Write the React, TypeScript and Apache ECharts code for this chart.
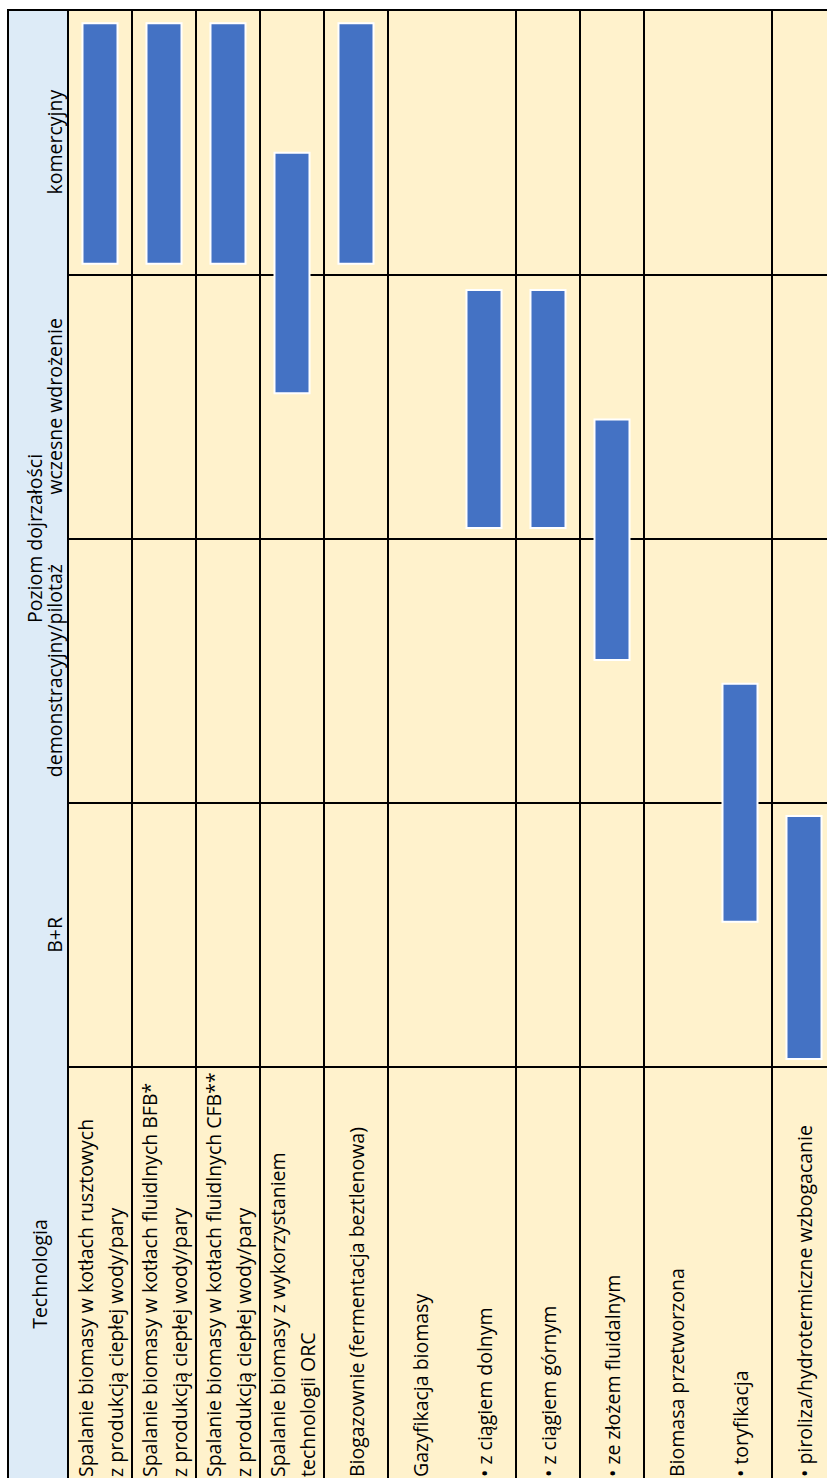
import React, { useEffect, useRef } from "react";
import * as echarts from "echarts";

// Rows of the (rotated) table: technologies
const rows = [
  "Spalanie biomasy w kotłach rusztowych\nz produkcją ciepłej wody/pary",
  "Spalanie biomasy w kotłach fluidlnych BFB*\nz produkcją ciepłej wody/pary",
  "Spalanie biomasy w kotłach fluidlnych CFB**\nz produkcją ciepłej wody/pary",
  "Spalanie biomasy z wykorzystaniem\ntechnologii ORC",
  "Biogazownie (fermentacja beztlenowa)",
  "Gazyfikacja biomasy",
  "• z ciągiem dolnym",
  "• z ciągiem górnym",
  "• ze złożem fluidalnym",
  "Biomasa przetworzona",
  "• toryfikacja",
  "• piroliza/hydrotermiczne wzbogacanie",
];
// rows that share one table cell with the row before them (no separating line)
const mergedWithPrevious = [false, false, false, false, false, false, true, false, false, false, true, false];

// Maturity levels, from lowest to highest
const levels = ["B+R", "demonstracyjny/pilotaż", "wczesne wdrożenie", "komercyjny"];
const levelAxisName = "Poziom dojrzałości";
const technologyHeader = "Technologia";

// Bars: row index, start and end of maturity range (in level units, 0 = start of B+R)
const barRow = [0, 1, 2, 3, 4, 6, 7, 8, 10, 11];
const barStart = [3.04, 3.04, 3.04, 2.55, 3.04, 2.04, 2.04, 1.54, 0.55, 0.03];
const barEnd = [3.95, 3.95, 3.95, 3.46, 3.95, 2.94, 2.94, 2.45, 1.45, 0.95];

export default function App() {
  const ref = useRef<HTMLDivElement>(null);

  useEffect(() => {
    if (!ref.current) return;
    const chart = echarts.init(ref.current, undefined, { renderer: "svg" });

    const font = "'Open Sans', 'Noto Sans', sans-serif";
    const fs = 19.5;
    const lineStyle = { color: "#000", width: 2 };
    const yellow = "#FFF2CC";
    const blue = "#DDEBF7";

    const barData = barRow.map((r, i) => [r, barStart[i], barEnd[i]]);

    const option: any = {
      animation: false,
      textStyle: { fontFamily: font },
      grid: [
        {
          left: 68, top: 10, width: 768, height: 1057,
          show: true, backgroundColor: yellow, borderWidth: 0,
          outerBoundsMode: "none", containLabel: false,
        },
        {
          left: 68, top: 1067, width: 768, height: 414,
          show: true, backgroundColor: yellow, borderWidth: 0,
          outerBoundsMode: "none", containLabel: false,
        },
      ],
      xAxis: [
        {
          gridIndex: 0, type: "category", data: rows, boundaryGap: true,
          axisLine: { show: false }, axisTick: { show: false }, axisLabel: { show: false },
          splitLine: { show: true, interval: (i: number) => !mergedWithPrevious[i], lineStyle },
        },
        {
          gridIndex: 1, type: "category", data: rows, boundaryGap: true, position: "bottom",
          axisLine: { show: false }, axisTick: { show: false },
          axisLabel: {
            show: true, interval: 0, inside: true, rotate: 90, margin: 4,
            align: "left", verticalAlign: "middle", lineHeight: 30,
            padding: [4, 0, 0, 0],
            fontSize: fs, fontFamily: font, color: "#000", hideOverlap: false,
          },
          splitLine: { show: true, interval: (i: number) => !mergedWithPrevious[i], lineStyle },
        },
      ],
      yAxis: [
        {
          gridIndex: 0, type: "category", data: levels, boundaryGap: true, position: "left",
          axisLine: { show: false }, axisTick: { show: false },
          axisLabel: {
            show: true, interval: 0, rotate: 90, margin: 14,
            align: "center", verticalAlign: "middle",
            fontSize: fs, fontFamily: font, color: "#000", hideOverlap: false,
          },
          name: levelAxisName, nameLocation: "middle", nameRotate: 90, nameGap: 34,
          nameMoveOverlap: false,
          nameTextStyle: { fontSize: fs, fontFamily: font, color: "#000", align: "center", verticalAlign: "middle" },
          splitLine: { show: true, interval: 0, lineStyle },
        },
        {
          gridIndex: 0, type: "value", min: 0, max: 4, show: false, position: "right",
        },
        {
          gridIndex: 1, type: "value", min: 0, max: 1, position: "left",
          axisLine: { show: false }, axisTick: { show: false }, axisLabel: { show: false },
          splitLine: { show: false },
          name: technologyHeader, nameLocation: "middle", nameRotate: 90, nameGap: 29,
          nameMoveOverlap: false,
          nameTextStyle: { fontSize: fs, fontFamily: font, color: "#000", align: "center", verticalAlign: "middle" },
        },
      ],
      graphic: [
        { type: "rect", z: -1, shape: { x: 8, y: 10, width: 60, height: 1470 }, style: { fill: blue } },
        { type: "line", z: 100, shape: { x1: 8, y1: 10, x2: 8, y2: 1478 }, style: { stroke: "#000", lineWidth: 2 } },
        { type: "line", z: 100, shape: { x1: 7, y1: 10, x2: 827, y2: 10 }, style: { stroke: "#000", lineWidth: 2 } },
        { type: "line", z: 100, shape: { x1: 68, y1: 10, x2: 68, y2: 1478 }, style: { stroke: "#000", lineWidth: 2 } },
      ],
      series: [
        {
          type: "custom",
          xAxisIndex: 0,
          yAxisIndex: 1,
          encode: { x: 0, y: [1, 2] },
          data: barData,
          z: 10,
          renderItem: (params: any, api: any) => {
            const r = api.value(0);
            const p0 = api.coord([r, api.value(1)]);
            const p1 = api.coord([r, api.value(2)]);
            const w = api.size([1, 0])[0] * 0.547;
            return {
              type: "rect",
              shape: { x: p0[0] - w / 2, y: p1[1], width: w, height: p0[1] - p1[1] },
              style: { fill: "#4472C4", stroke: "#ffffff", lineWidth: 2 },
            };
          },
        },
      ],
    };

    chart.setOption(option);
    return () => chart.dispose();
  }, []);

  return (
    <div
      ref={ref}
      style={{ position: "fixed", left: 0, top: 0, width: 827, height: 1478, background: "#fff" }}
    />
  );
}
